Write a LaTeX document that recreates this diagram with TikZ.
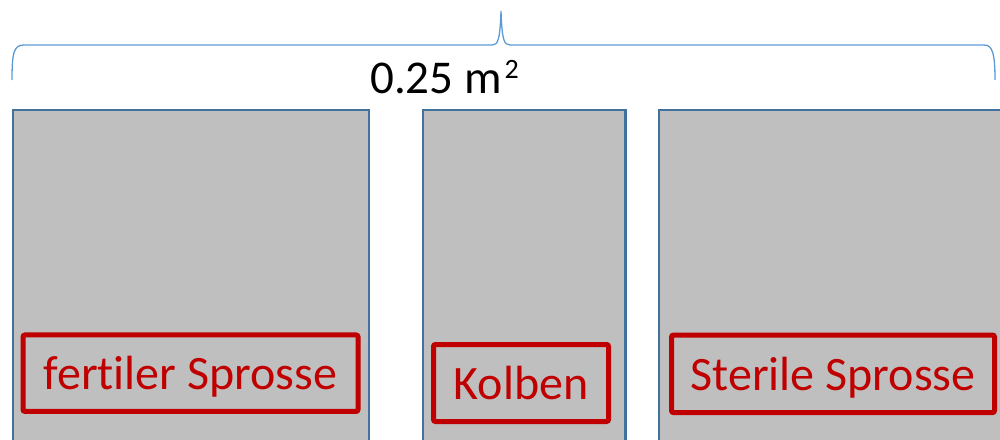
\documentclass[tikz,border=0pt]{standalone}
\usepackage{fontspec}
\setmainfont{Carlito}[Ligatures=NoCommon]
\definecolor{panelfill}{HTML}{BFBFBF}
\definecolor{panelline}{HTML}{41719C}
\definecolor{bracecol}{HTML}{5B9BD5}
\definecolor{labelred}{HTML}{C00000}
\tikzset{
  panel/.style={draw=panelline, fill=panelfill, line width=2.5pt, inner sep=0pt},
  tag/.style={draw=labelred, line width=5pt, rounded corners=2pt, text=labelred,
    font=\fontsize{48}{56}\selectfont, inner sep=0pt, text height=33pt, text depth=0pt,
    align=center},
  areabrace/.style={draw=bracecol, line width=1.3pt}
}
\begin{document}
\begin{tikzpicture}[x=1pt, y=-1pt]
  \useasboundingbox (0,0) rectangle (1000,439);
  \clip (0,0) rectangle (1000,439);

  % sample panels
  \node[panel, minimum width=356pt, minimum height=350pt] (fert) at (191,285) {};
  \node[panel, minimum width=202.5pt, minimum height=350pt] (kolb) at (524,285) {};
  \node[panel, minimum width=361pt, minimum height=350pt] (ster) at (839.5,285) {};

  % labels
  \node[tag, minimum width=335pt, minimum height=76.5pt] (fertlab) at (190.5,373.2) {fertiler Sprosse};
  \node[tag, minimum width=175pt, minimum height=77pt] (kolblab) at (521,383) {Kolben};
  \node[tag, minimum width=323pt, minimum height=77.5pt] (sterlab) at (833,373.8) {Sterile Sprosse};

  % brace over all panels
  \coordinate (bl) at (12,80);
  \coordinate (br) at (995,80);
  \coordinate (tip) at (501,11);
  \draw[areabrace] (bl) .. controls (12,52) and (14,45) .. (24,45) -- (492,45)
    .. controls (498,45) and (500,40) .. (tip)
    .. controls (502,40) and (504,45) .. (510,45) -- (984,45)
    .. controls (992,45) and (995,52) .. (br);

  \node[anchor=base west, font=\fontsize{47}{56}\selectfont, inner sep=0pt] (area) at (370,93)
    {0.25 m\kern3pt\raisebox{15pt}{\fontsize{28}{30}\selectfont 2}};
\end{tikzpicture}
\end{document}
